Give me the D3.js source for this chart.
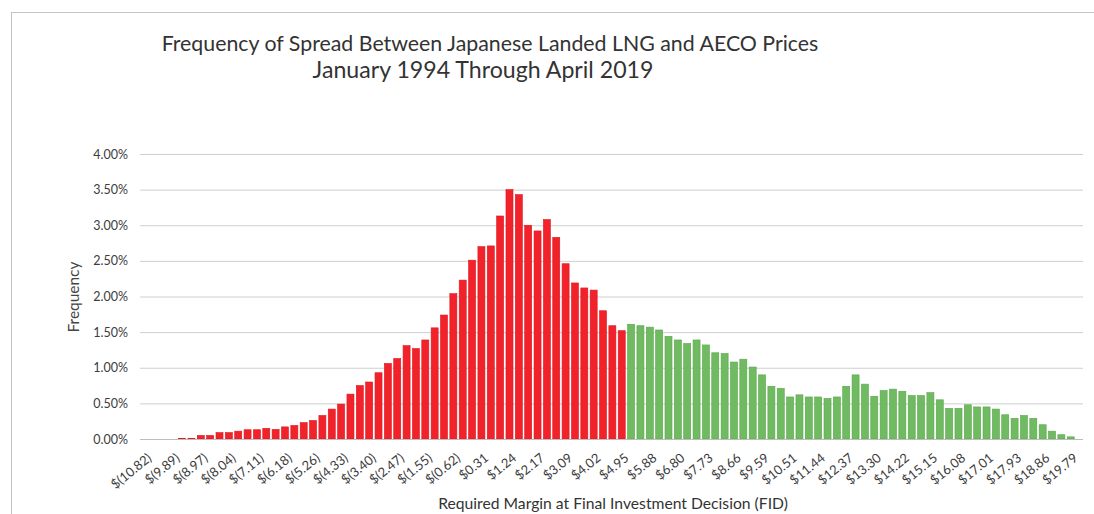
<!DOCTYPE html>
<html><head><meta charset="utf-8">
<script src="https://cdn.jsdelivr.net/npm/d3@7"></script>
<style>
html,body{margin:0;padding:0;background:#fff;overflow:hidden;}
svg{display:block;font-family:Lato,"Open Sans",sans-serif;}
</style></head><body>
<svg id="chart" width="1094" height="514"></svg>
<script>
// ---- data ----
const titleLines = ["Frequency of Spread Between Japanese Landed LNG and AECO Prices",
                    "January 1994 Through April 2019"];
const yAxisTitle = "Frequency";
const xAxisTitle = "Required Margin at Final Investment Decision (FID)";

// labels shown on every third bin
const tickLabels = ["$(10.82)","$(9.89)","$(8.97)","$(8.04)","$(7.11)","$(6.18)","$(5.26)","$(4.33)",
  "$(3.40)","$(2.47)","$(1.55)","$(0.62)","$0.31","$1.24","$2.17","$3.09","$4.02","$4.95",
  "$5.88","$6.80","$7.73","$8.66","$9.59","$10.51","$11.44","$12.37","$13.30","$14.22",
  "$15.15","$16.08","$17.01","$17.93","$18.86","$19.79"];

// frequency (%) for bins up to $4.95 (red)
const redSeries = [0,0,0,0,0.01,0.01,0.05,0.05,0.09,0.09,0.11,0.13,0.13,0.15,0.135,0.17,0.19,0.23,
  0.26,0.33,0.42,0.49,0.63,0.75,0.80,0.93,1.06,1.13,1.31,1.27,1.39,1.56,1.74,2.04,2.23,2.51,
  2.70,2.71,3.13,3.50,3.43,3.00,2.92,3.08,2.83,2.46,2.19,2.12,2.09,1.80,1.59,1.52];
// frequency (%) for bins above $4.95 (green)
const greenSeries = [1.61,1.59,1.57,1.53,1.44,1.39,1.34,1.39,1.32,1.21,1.20,1.08,1.12,1.01,0.90,
  0.74,0.71,0.59,0.62,0.59,0.59,0.57,0.59,0.74,0.90,0.77,0.60,0.68,0.70,0.67,0.61,0.61,0.65,
  0.55,0.43,0.43,0.48,0.45,0.45,0.42,0.34,0.29,0.33,0.29,0.20,0.11,0.06,0.03];
const yTicks = [0,0.5,1,1.5,2,2.5,3,3.5,4];

// ---- chart ----
const svg = d3.select("#chart");
const plot = {left:140, right:1083, top:154, bottom:439};
const nBins = redSeries.length + greenSeries.length;
const bars = redSeries.map((v,i)=>({i, v, c:"red"}))
  .concat(greenSeries.map((v,j)=>({i:redSeries.length + j, v, c:"green"})));

const x = d3.scaleBand().domain(d3.range(nBins))
  .range([plot.left, plot.left + 9.354*nBins]).paddingInner(0.25).paddingOuter(0.125);
const y = d3.scaleLinear().domain([0,4]).range([plot.bottom, plot.top]);

// outer chart border
svg.append("rect").attr("x",11.5).attr("y",12.5).attr("width",1200).attr("height",600)
  .attr("fill","none").attr("stroke","#c4c4c4").attr("stroke-width",1);

// gridlines + y labels
const yAxis = d3.axisLeft(y).tickValues(yTicks).tickFormat(d=>d3.format(".2f")(d)+"%")
  .tickSize(-(plot.right-plot.left)).tickPadding(12);
const gy = svg.append("g").attr("transform",`translate(${plot.left},0)`).call(yAxis);
gy.select(".domain").remove();
gy.selectAll(".tick line").attr("stroke","#cfcfcf").attr("stroke-width",1);
gy.selectAll(".tick text").attr("fill","#3c3c3c").attr("font-size",12.5)
  .attr("font-family","Lato,'Open Sans',sans-serif");

// bars
const colors = {red:{fill:"#f2222b",stroke:"#dc1820"}, green:{fill:"#70bb61",stroke:"#58a64a"}};
svg.append("g").selectAll("rect").data(bars).join("rect")
  .attr("x",d=>x(d.i)).attr("width",x.bandwidth())
  .attr("y",d=>y(d.v)).attr("height",d=>y(0)-y(d.v))
  .attr("fill",d=>colors[d.c].fill).attr("stroke",d=>d.v>0?colors[d.c].stroke:"none")
  .attr("stroke-width",0.6);

// x axis
const labelled = d3.range(0, nBins, 3);
const xAxis = d3.axisBottom(x).tickValues(labelled)
  .tickFormat(d=>tickLabels[labelled.indexOf(d)]).tickSize(0).tickPadding(0);
const gx = svg.append("g").attr("transform",`translate(0,${plot.bottom})`).call(xAxis);
gx.select(".domain").attr("d",`M${plot.left},0.5H${plot.right}`).attr("stroke","#bdbdbd");
gx.selectAll(".tick text")
  .attr("font-size",13).attr("fill","#3c3c3c").attr("font-family","Lato,'Open Sans',sans-serif")
  .attr("text-anchor","end").attr("y",0).attr("dy","0.35em")
  .attr("transform","translate(5,17) rotate(-39)");

// titles
function fit(sel, w){
  const cur = +sel.attr("font-size");
  const len = sel.node().getComputedTextLength();
  sel.attr("font-size", cur*w/len);
}
const t1 = svg.append("text").attr("x",490).attr("y",51).attr("text-anchor","middle")
  .attr("font-size",20).attr("fill","#333").text(titleLines[0]);
fit(t1,657);
const t2 = svg.append("text").attr("x",483).attr("y",78).attr("text-anchor","middle")
  .attr("font-size",20).attr("fill","#333").text(titleLines[1]);
fit(t2,341);
const yt = svg.append("text").attr("transform","translate(79,297) rotate(-90)")
  .attr("text-anchor","middle").attr("font-size",13).attr("fill","#444").text(yAxisTitle);
fit(yt,71);
const xt = svg.append("text").attr("x",613).attr("y",509).attr("text-anchor","middle")
  .attr("font-size",14).attr("fill","#333").text(xAxisTitle);
fit(xt,350);
</script>
</body></html>
